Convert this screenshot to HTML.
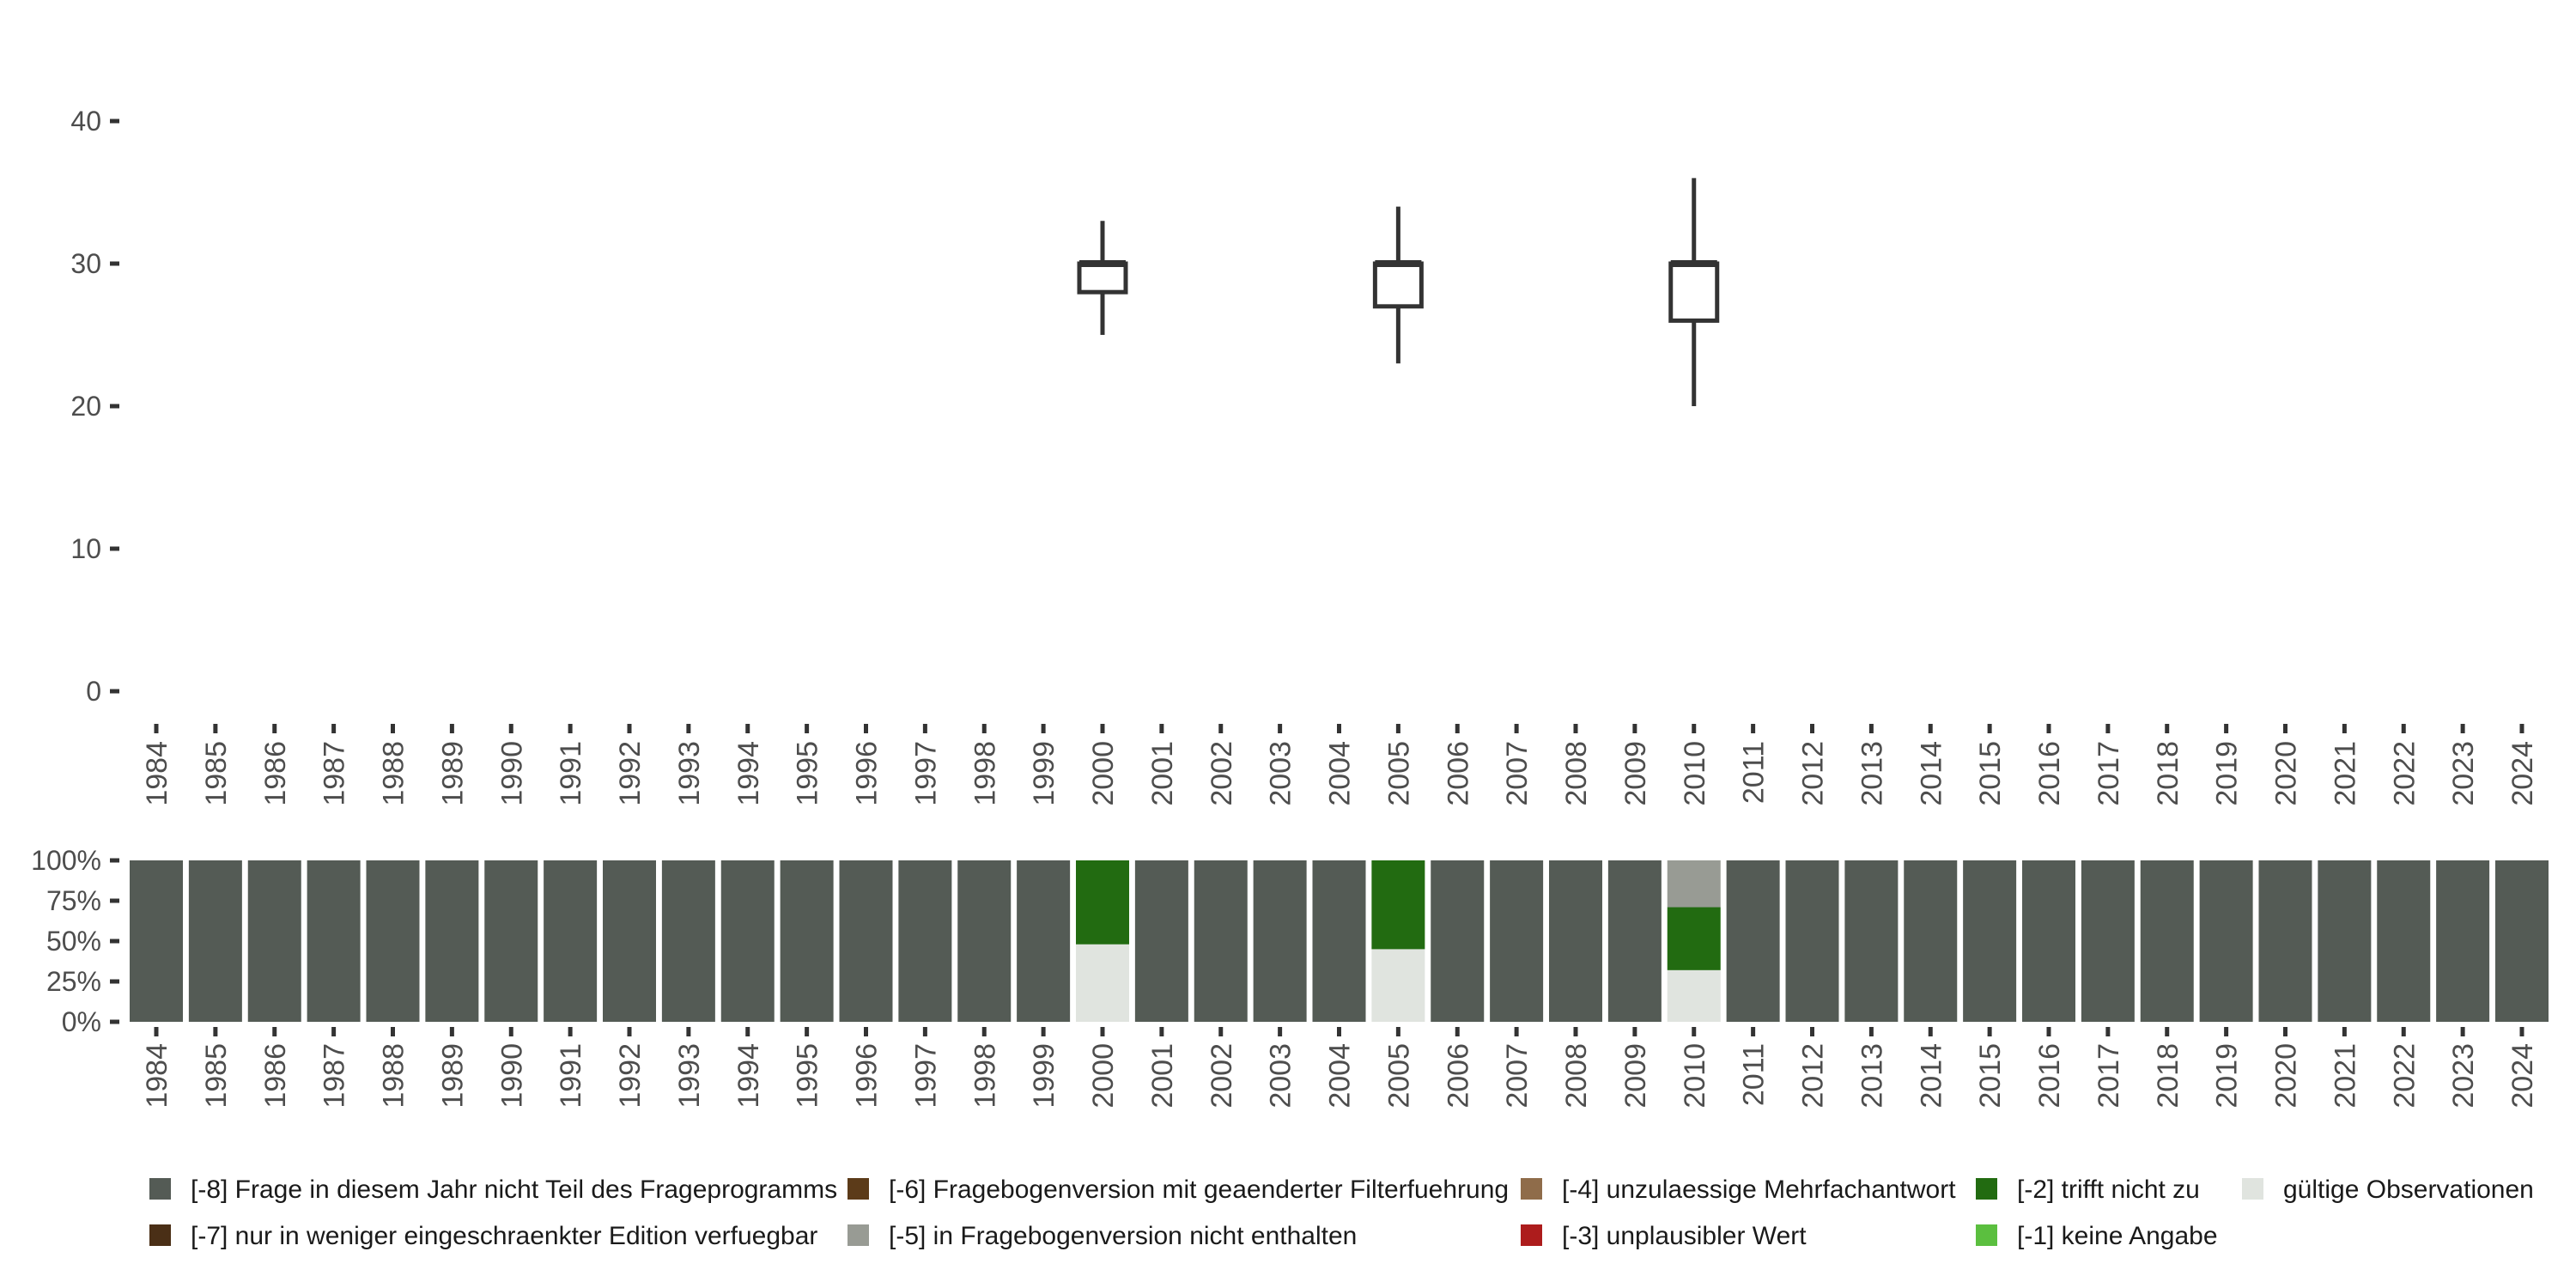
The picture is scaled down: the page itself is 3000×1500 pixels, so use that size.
<!DOCTYPE html>
<html><head><meta charset="utf-8"><style>
html,body{margin:0;padding:0;background:#fff;}
svg{display:block;font-family:"Liberation Sans","DejaVu Sans",sans-serif;}
</style></head><body>
<svg id="chart" width="3000" height="1500" viewBox="0 0 3000 1500" xmlns="http://www.w3.org/2000/svg">
<rect width="3000" height="1500" fill="#fff"/>
<g id="topPanel"></g>
<g id="botPanel"></g>
<g id="legPanel"></g>
</svg>
<script>
const years = [];
for (let y = 1984; y <= 2024; y++) years.push(y);
const yTicks = [0, 10, 20, 30, 40];
const pctTicks = [0, 25, 50, 75, 100];
const boxYears = [2000, 2005, 2010];
const boxMin = [25, 23, 20];
const boxQ1 = [28, 27, 26];
const boxMed = [30, 30, 30];
const boxQ3 = [30, 30, 30];
const boxMax = [33, 34, 36];
const categories = ["[-8] Frage in diesem Jahr nicht Teil des Frageprogramms","[-7] nur in weniger eingeschraenkter Edition verfuegbar","[-6] Fragebogenversion mit geaenderter Filterfuehrung","[-5] in Fragebogenversion nicht enthalten","[-4] unzulaessige Mehrfachantwort","[-3] unplausibler Wert","[-2] trifft nicht zu","[-1] keine Angabe","gültige Observationen"];
const catColors = ["#545b55","#4a2f16","#5c3b19","#989b94","#8f6c4a","#ad1c1c","#226b11","#5bbf3f","#e0e4df"];
const validShare = {2000: 48, 2005: 45, 2010: 32};
const notApplyShare = {2000: 52, 2005: 55, 2010: 39};
const notInVersionShare = {2000: 0, 2005: 0, 2010: 29};

const NS = "http://www.w3.org/2000/svg";
function el(tag, attrs, parent, text) {
  const e = document.createElementNS(NS, tag);
  for (const k in attrs) e.setAttribute(k, attrs[k]);
  if (text !== undefined) e.textContent = text;
  parent.appendChild(e);
  return e;
}
const xs = yr => 182 + (yr - 1984) * (2937 - 182) / 40;
const yTop = v => 805 - v * 16.6;
const yBot = p => 1190 - p * 1.88;
const topPanel = document.getElementById('topPanel');
const botPanel = document.getElementById('botPanel');
const legPanel = document.getElementById('legPanel');
const txtCol = "#4d4d4d", tickCol = "#333";

yTicks.forEach(v => {
  const t = el('text', {x: 118, y: yTop(v) + 11, 'text-anchor': 'end', 'font-size': 32, fill: txtCol}, topPanel, String(v));
  
  
  el('line', {x1: 128, x2: 139, y1: yTop(v), y2: yTop(v), stroke: tickCol, 'stroke-width': 5}, topPanel);
});
years.forEach(yr => {
  el('line', {x1: xs(yr), x2: xs(yr), y1: 843, y2: 854, stroke: tickCol, 'stroke-width': 5}, topPanel);
  const t = el('text', {transform: `translate(${xs(yr) + 12},${863}) rotate(-90)`, 'text-anchor': 'end', 'font-size': 34, fill: txtCol}, topPanel, String(yr));
  
  
});
boxYears.forEach((yr, i) => {
  const g = el('g', {}, topPanel);
  
  
  const cx = xs(yr), w = 54;
  el('line', {x1: cx, x2: cx, y1: yTop(boxMax[i]), y2: yTop(boxQ3[i]), stroke: tickCol, 'stroke-width': 5}, g);
  el('line', {x1: cx, x2: cx, y1: yTop(boxQ1[i]), y2: yTop(boxMin[i]), stroke: tickCol, 'stroke-width': 5}, g);
  el('rect', {x: cx - w / 2, y: yTop(boxQ3[i]), width: w, height: yTop(boxQ1[i]) - yTop(boxQ3[i]), fill: '#fff', stroke: tickCol, 'stroke-width': 5}, g);
  el('line', {x1: cx - w / 2, x2: cx + w / 2, y1: yTop(boxMed[i]), y2: yTop(boxMed[i]), stroke: tickCol, 'stroke-width': 8}, g);
});

pctTicks.forEach(p => {
  const t = el('text', {x: 118, y: yBot(p) + 11, 'text-anchor': 'end', 'font-size': 32, fill: txtCol}, botPanel, p + '%');
  
  
  el('line', {x1: 128, x2: 139, y1: yBot(p), y2: yBot(p), stroke: tickCol, 'stroke-width': 5}, botPanel);
});
const bw = 62;
years.forEach(yr => {
  const g = el('g', {}, botPanel);
  
  
  const segs = [];
  if (validShare[yr] !== undefined) {
    segs.push([validShare[yr], catColors[8]], [notApplyShare[yr], catColors[6]], [notInVersionShare[yr], catColors[3]]);
  } else segs.push([100, catColors[0]]);
  let acc = 0;
  segs.forEach(([v, c]) => {
    if (v <= 0) return;
    el('rect', {x: xs(yr) - bw / 2, y: yBot(acc + v), width: bw, height: yBot(acc) - yBot(acc + v), fill: c}, g);
    acc += v;
  });
  el('line', {x1: xs(yr), x2: xs(yr), y1: 1196, y2: 1207, stroke: tickCol, 'stroke-width': 5}, botPanel);
  const t = el('text', {transform: `translate(${xs(yr) + 12},${1215}) rotate(-90)`, 'text-anchor': 'end', 'font-size': 34, fill: txtCol}, botPanel, String(yr));
  
  
});

const legX = [186, 999, 1783, 2313, 2623];
const legY = [1385, 1439];
const order = [[0,1],[2,3],[4,5],[6,7],[8]];
order.forEach((col, ci) => col.forEach((k, ri) => {
  const g = el('g', {}, legPanel);
  
  
  el('rect', {x: legX[ci] - 12, y: legY[ri] - 13, width: 25, height: 25, fill: catColors[k]}, g);
  el('text', {x: legX[ci] + 36, y: legY[ri] + 10, 'font-size': 30, fill: '#1a1a1a'}, g, categories[k]);
}));
</script>
</body></html>
